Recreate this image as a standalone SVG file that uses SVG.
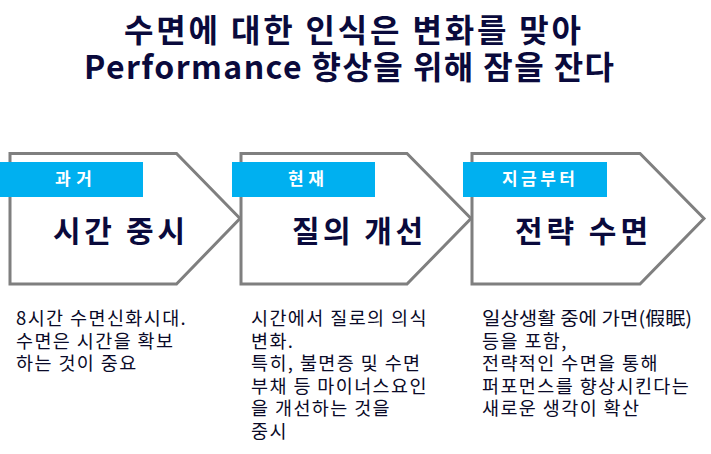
<svg xmlns="http://www.w3.org/2000/svg" width="711" height="454" viewBox="0 0 711 454">
<style>
.title{font-family:"Noto Sans CJK KR","Noto Sans",sans-serif;font-weight:bold;font-size:32px;fill:#0A0A3C}
.arrow{fill:#FFFFFF;stroke:#7F7F7F;stroke-width:3;stroke-linejoin:miter}
.band{fill:#00B0F0}
.tag{font-family:"Noto Sans CJK KR",sans-serif;font-weight:bold;font-size:17px;fill:#FFFFFF}
.head{font-family:"Noto Sans CJK KR",sans-serif;font-weight:bold;font-size:30px;fill:#0A0A3C}
.body{font-family:"Noto Sans CJK KR",sans-serif;font-size:18.5px;fill:#0A0A28;letter-spacing:1.4px}
</style>
<rect width="711" height="454" fill="#FFFFFF"/>
<g id="title">
<text class="title" x="124" y="42" textLength="457" lengthAdjust="spacing">수면에 대한 인식은 변화를 맞아</text>
<text class="title" x="84" y="79" textLength="530" lengthAdjust="spacing">Performance 향상을 위해 잠을 잔다</text>
</g>
<g id="connectors"></g>
<g id="node-past">
<polygon class="arrow" points="10,153.5 176.5,153.5 240,218.5 176.5,284 10,284"/>
<rect class="band" x="0" y="162" width="143" height="35"/>
<text class="tag" x="55" y="185" textLength="37" lengthAdjust="spacing">과거</text>
<text class="head" x="53" y="242" textLength="132" lengthAdjust="spacing">시간 중시</text>
</g>
<g id="node-present">
<polygon class="arrow" points="241,153.5 407,153.5 471,218.5 407,284 241,284"/>
<rect class="band" x="232" y="162" width="143" height="35"/>
<text class="tag" x="288" y="185" textLength="36" lengthAdjust="spacing">현재</text>
<text class="head" x="292" y="242" textLength="131" lengthAdjust="spacing">질의 개선</text>
</g>
<g id="node-future">
<polygon class="arrow" points="472,153.5 640,153.5 704,218.5 640,284 472,284"/>
<rect class="band" x="463" y="162" width="144" height="35"/>
<text class="tag" x="502" y="185" textLength="73" lengthAdjust="spacing">지금부터</text>
<text class="head" x="515" y="242" textLength="133" lengthAdjust="spacing">전략 수면</text>
</g>
<g id="desc-past">
<text class="body" x="16" y="325">8시간 수면신화시대.</text>
<text class="body" x="16" y="347.5">수면은 시간을 확보</text>
<text class="body" x="16" y="370">하는 것이 중요</text>
</g>
<g id="desc-present">
<text class="body" x="251" y="325">시간에서 질로의 의식</text>
<text class="body" x="251" y="347.5">변화.</text>
<text class="body" x="251" y="370">특히, 불면증 및 수면</text>
<text class="body" x="251" y="392.5">부채 등 마이너스요인</text>
<text class="body" x="251" y="415">을 개선하는 것을</text>
<text class="body" x="251" y="437.5">중시</text>
</g>
<g id="desc-future">
<text class="body" x="482" y="325" textLength="210" lengthAdjust="spacingAndGlyphs" style="letter-spacing:0">일상생활 중에 가면(假眠)</text>
<text class="body" x="482" y="347.5">등을 포함,</text>
<text class="body" x="482" y="370">전략적인 수면을 통해</text>
<text class="body" x="482" y="392.5">퍼포먼스를 향상시킨다는</text>
<text class="body" x="482" y="415">새로운 생각이 확산</text>
</g>
</svg>
